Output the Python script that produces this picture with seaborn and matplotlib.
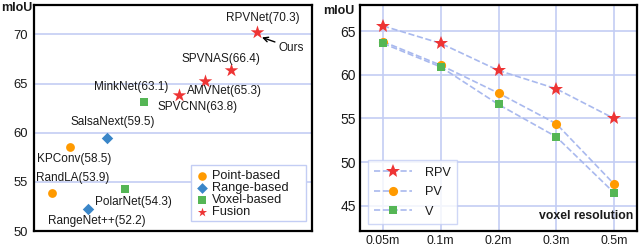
import matplotlib
matplotlib.use("Agg")
import matplotlib.pyplot as plt
import matplotlib.patches as mpatches
import seaborn as sns
import pandas as pd

# ---------------- data ----------------
methods = ["RandLA", "KPConv", "RangeNet++", "SalsaNext", "PolarNet",
           "MinkNet", "SPVCNN", "AMVNet", "SPVNAS", "RPVNet"]
method_x = [0.65, 1.3, 1.95, 2.64, 3.29, 3.94, 5.2, 6.14, 7.08, 8.01]
method_miou = [53.9, 58.5, 52.2, 59.5, 54.3, 63.1, 63.8, 65.3, 66.4, 70.3]
method_type = ["Point-based", "Point-based", "Range-based", "Range-based",
               "Voxel-based", "Voxel-based", "Fusion", "Fusion", "Fusion", "Fusion"]
type_order = ["Point-based", "Range-based", "Voxel-based", "Fusion"]

resolutions = ["0.05m", "0.1m", "0.2m", "0.3m", "0.5m"]
rpv = [65.6, 63.6, 60.5, 58.4, 55.0]
pv = [63.8, 61.1, 57.9, 54.4, 47.5]
v = [63.6, 60.9, 56.6, 52.9, 46.5]

# ---------------- style ----------------
sns.set_theme(style="white")
plt.rcParams["font.family"] = ["Liberation Sans", "DejaVu Sans"]

ORANGE = "#ff9a00"
BLUE = "#3a86c8"
GREEN = "#55b655"
RED = "#ee3434"
GRID = "#c3cdf4"
LINE = "#a9b9ee"
TXT = "#1a1a1a"

palette = {"Point-based": ORANGE, "Range-based": BLUE,
           "Voxel-based": GREEN, "Fusion": RED}
markers = {"Point-based": "o", "Range-based": "D",
           "Voxel-based": "s", "Fusion": "*"}
sizes = {"Point-based": 40, "Range-based": 34,
         "Voxel-based": 40, "Fusion": 105}
legend_sizes = {"Point-based": 38, "Range-based": 30,
                "Voxel-based": 26, "Fusion": 48}

fig = plt.figure(figsize=(6.4, 2.46), dpi=100)
ax1 = fig.add_axes([34 / 640, 1 - 231 / 246, 278 / 640, 226 / 246])
ax2 = fig.add_axes([360 / 640, 1 - 231 / 246, 277 / 640, 226 / 246])

# ---------------- left panel ----------------
df = pd.DataFrame({"x": method_x, "miou": method_miou, "type": method_type,
                   "name": methods})
for t in type_order:
    sub = df[df["type"] == t]
    sns.scatterplot(data=sub, x="x", y="miou", color=palette[t],
                    marker=markers[t], s=sizes[t], linewidth=0,
                    label=t, ax=ax1, zorder=3)

ax1.set_xlim(0, 10)
ax1.set_ylim(50, 73)
ax1.set_yticks([50, 55, 60, 65, 70])
ax1.set_xticks([])
ax1.set_xlabel("")
ax1.set_ylabel("")
ax1.yaxis.grid(True, color=GRID, linewidth=1.2)
ax1.set_axisbelow(True)
ax1.tick_params(axis="y", labelsize=9.4, length=0, pad=4.4, labelcolor=TXT)

offsets = {
    "RandLA": (21, 15), "KPConv": (4, -12), "RangeNet++": (9, -12),
    "SalsaNext": (5, 16), "PolarNet": (8, -13), "MinkNet": (-12, 15),
    "SPVCNN": (19, -12), "AMVNet": (20, -10), "SPVNAS": (-10, 11),
    "RPVNet": (6, 14),
}
for name, xv, yv in zip(methods, method_x, method_miou):
    dx, dy = offsets[name]
    ax1.annotate(f"{name}({yv})", (xv, yv), xytext=(dx / 1.389, dy / 1.389),
                 textcoords="offset points", ha="center", va="center",
                 fontsize=8.5, color=TXT)
ax1.annotate("Ours", xy=(8.2, 69.7), xytext=(9.24, 68.67),
             fontsize=8.5, ha="center", va="center", color=TXT,
             arrowprops=dict(arrowstyle="->", color="black", lw=1.0,
                             shrinkA=11, shrinkB=0))

# legend frame (drawn as its own box, as in the reference)
ax1.add_patch(mpatches.Rectangle((0.565, 0.044), 0.413, 0.248,
                                 transform=ax1.transAxes, facecolor="white",
                                 edgecolor=GRID, linewidth=1.0, zorder=4))
leg1 = ax1.legend(loc="lower left", bbox_to_anchor=(0.565, 0.044),
                  fontsize=9.2, frameon=False,
                  handletextpad=0.2, borderpad=0.25, labelspacing=0.0,
                  borderaxespad=0.0, handlelength=1.2)
leg1.set_zorder(5)
for tx, h in zip(leg1.get_texts(), leg1.legend_handles):
    tx.set_color(TXT)
    h.set_sizes([legend_sizes[tx.get_text()]])

fig.text(0.002, 1 - 8 / 246, "mIoU", fontsize=9, fontweight="bold",
         ha="left", va="center", color=TXT)

# ---------------- right panel ----------------
series = [("RPV", rpv, "*", RED, 10), ("PV", pv, "o", ORANGE, 6.6),
          ("V", v, "s", GREEN, 5.8)]
for label, vals, mk, col, ms in series:
    d = pd.DataFrame({"res": resolutions, "miou": vals})
    sns.lineplot(data=d, x="res", y="miou", ax=ax2, color=LINE,
                 linestyle="--", linewidth=1.2, marker=mk, markersize=ms,
                 markerfacecolor=col, markeredgecolor=col, markeredgewidth=0,
                 label=label, zorder=3)

ax2.set_xlim(-0.4, 4.4)
ax2.set_ylim(42.1, 68)
ax2.set_yticks([45, 50, 55, 60, 65])
ax2.set_xlabel("")
ax2.set_ylabel("")
ax2.grid(True, color=GRID, linewidth=1.2)
ax2.set_axisbelow(True)
ax2.tick_params(axis="y", labelsize=10, length=0, pad=3, labelcolor=TXT)
ax2.tick_params(axis="x", labelsize=8.9, length=0, pad=3.2, labelcolor=TXT)
ax2.text(0.985, 0.04, "voxel resolution", transform=ax2.transAxes,
         ha="right", va="bottom", fontsize=8.8, fontweight="bold", color=TXT)

leg2 = ax2.legend(loc="lower left", bbox_to_anchor=(0.029, 0.031),
                  fontsize=9.1, frameon=True,
                  handlelength=3.0, handletextpad=1.0, borderpad=0.5,
                  labelspacing=0.6, borderaxespad=0.0, fancybox=False)
leg2.get_frame().set_edgecolor(GRID)
leg2.get_frame().set_linewidth(1.0)
for tx in leg2.get_texts():
    tx.set_color(TXT)

fig.text(323 / 640, 1 - 11 / 246, "mIoU", fontsize=9, fontweight="bold",
         ha="left", va="center", color=TXT)

for ax in (ax1, ax2):
    for sp in ax.spines.values():
        sp.set_color("black")
        sp.set_linewidth(1.6)
        sp.set_visible(True)

fig.savefig("out.png", dpi=100)
